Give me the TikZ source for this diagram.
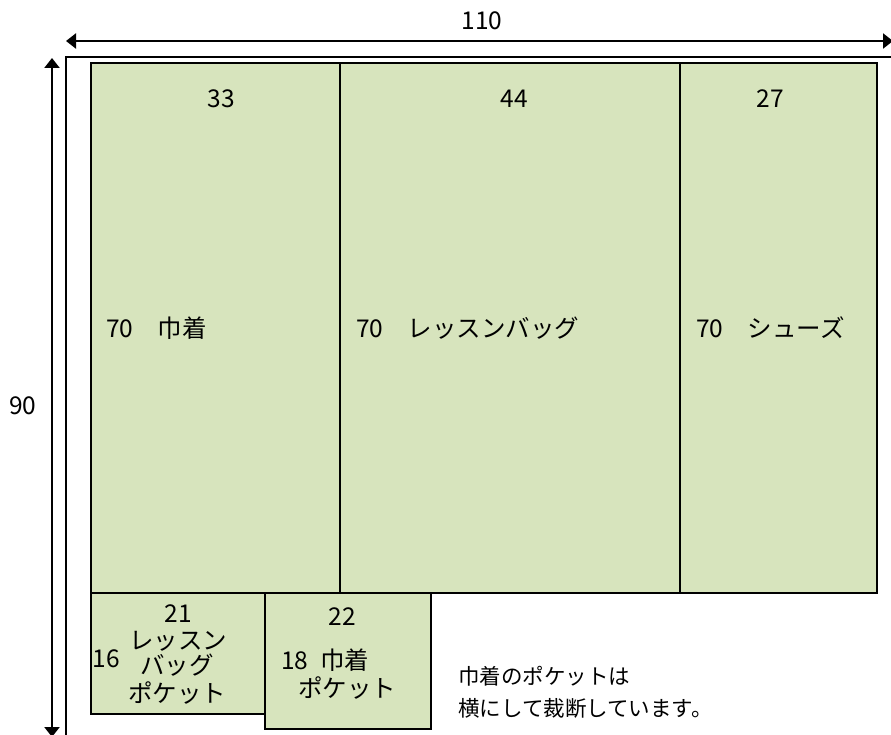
\documentclass[tikz,border=0pt]{standalone}
\usepackage{fontspec}
\setmainfont{Noto Sans CJK JP}
\usetikzlibrary{arrows.meta}
\definecolor{pfill}{HTML}{D7E4BD}
\begin{document}
\begin{tikzpicture}[x=1pt,y=-1pt,
  piece/.style={draw=black,line width=1.7pt,fill=pfill,inner sep=0pt,anchor=north west},
  lbl/.style={inner sep=0pt,font=\fontsize{24.5}{28}\selectfont},
  lblw/.style={lbl,anchor=west},
  note/.style={inner sep=0pt,anchor=west,font=\fontsize{21.5}{25}\selectfont},
  dim/.style={line width=2.2pt,{Triangle[length=10pt,width=15pt]}-{Triangle[length=10pt,width=15pt]}},
  frame/.style={line width=2pt},
]
\useasboundingbox (0,0) rectangle (891,735);
\fill[white] (0,0) rectangle (891,735);

% dimension lines
\coordinate (tl) at (66,41);
\coordinate (tr) at (893,41);
\coordinate (lt) at (52,58);
\coordinate (lb) at (52,737);
\draw[dim] (tl) -- (tr);
\draw[dim] (lt) -- (lb);
\coordinate (fr) at (893,57.3);
\coordinate (fc) at (65.5,57.3);
\coordinate (fb) at (65.5,737);
\draw[frame] (fr) -- (fc) -- (fb);

\node[lbl] (w110) at (482,21) {110};
\node[lbl] (h90) at (23,406) {90};

% pieces
\node[piece,minimum width=249pt,minimum height=529.5pt] (kin) at (90,62.5) {};
\node[piece,minimum width=340pt,minimum height=529.5pt] (bag) at (339,62.5) {};
\node[piece,minimum width=197pt,minimum height=529.5pt] (shoe) at (679,62.5) {};
\node[piece,minimum width=174pt,minimum height=121pt] (bagp) at (90,592) {};
\node[piece,minimum width=166pt,minimum height=136pt] (kinp) at (264,592) {};

% labels
\node[lbl] (l33) at (221,99) {33};
\node[lbl] (l44) at (514,99) {44};
\node[lbl] (l27) at (770,99) {27};
\node[lblw] (t1) at (106,328) {70　巾着};
\node[lblw] (t2) at (356,328) {70　レッスンバッグ};
\node[lblw] (t3) at (696,328) {70　シューズ};

\node[lbl] (l21) at (178,614) {21};
\node[lbl] (p1) at (178,641) {レッスン};
\node[lbl] (p2) at (177,665) {バッグ};
\node[lbl] (p3) at (177,693) {ポケット};
\node[lbl] (l16) at (106,659) {16};

\node[lbl] (l22) at (342,617) {22};
\node[lblw] (q1) at (281,660) {18\hspace{12pt}巾着};
\node[lbl] (q2) at (347,688) {ポケット};

\node[note] (n1) at (458,676) {巾着のポケットは};
\node[note] (n2) at (458,708) {横にして裁断しています。};
\end{tikzpicture}
\end{document}
